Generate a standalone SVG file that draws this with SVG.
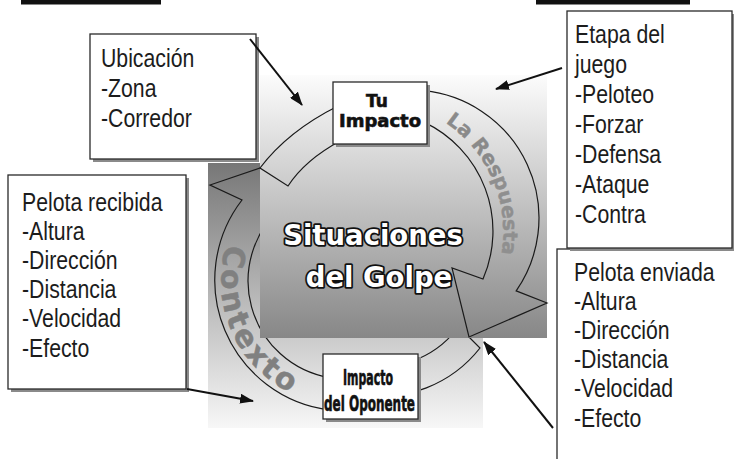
<svg xmlns="http://www.w3.org/2000/svg" width="734" height="459" viewBox="0 0 734 459">
<defs>
<style>
.box{fill:#fff;stroke:#2a2a2a;stroke-width:1.3}
.shadow{fill:#8a8a8a}
.lst{font-family:'Liberation Sans','Arial',sans-serif;font-size:25px;fill:#1c1c1c}
.ring{fill:none;stroke:#1a1a1a;stroke-width:1.2}
.conn{fill:none;stroke:#111;stroke-width:2}
.hv{font-family:'DejaVu Sans',sans-serif;font-weight:bold}
.arc{font-family:'DejaVu Sans',sans-serif;font-weight:bold}
</style>
<linearGradient id="gA" gradientUnits="userSpaceOnUse" x1="0" y1="163" x2="0" y2="428"><stop offset="0" stop-color="#777777"/><stop offset="1" stop-color="#f7f7f7"/></linearGradient>
<linearGradient id="gB" gradientUnits="userSpaceOnUse" x1="0" y1="75" x2="0" y2="338"><stop offset="0" stop-color="#fcfcfc"/><stop offset="1" stop-color="#878787"/></linearGradient>
<marker id="ah" markerUnits="userSpaceOnUse" markerWidth="14" markerHeight="10" refX="13" refY="5" orient="auto"><path d="M0,0 L14,5 L0,10 z" fill="#111"/></marker>
<path id="pResp" d="M 429.7 113.7 A 131 131 0 0 1 486.0 296.5"/>
<path id="pCont" d="M 228.5 238.2 A 125 125 0 0 0 367.7 404.1"/>
</defs>

<rect x="21" y="0" width="140" height="4.5" fill="#111"/>
<rect x="536" y="0" width="154" height="4.5" fill="#111"/>

<g id="background">
<rect x="208" y="163" width="275" height="265" fill="url(#gA)"/>
</g>

<g id="ring-lower">
<path class="ring" d="M 458 326 L 480 348 A 127 127 0 0 1 360 395 M 461 323 A 97 97 0 0 1 362 365"/>
<path class="ring" d="M 262 167.3 L 210 185 L 242 200 A 131 131 0 0 0 330 410 M 283 206 A 98 98 0 0 0 330 377.7"/>
</g>

<g id="situaciones">
<rect x="260" y="75" width="287" height="263" fill="url(#gB)"/>
</g>

<g id="ring-upper">
<path class="ring" d="M 260 168 Q 288 131 338 106 L 424 90.7 A 128 128 0 0 1 516.2 290.9 L 547 303 L 469 337 L 452 268 L 483 279 A 120.5 120.5 0 0 0 424 122.1 L 340 141 Q 305 160 288 186 Z"/>
</g>

<g id="ring-labels">
<text class="arc" font-size="20" fill="#8a8a8a" stroke="#8a8a8a" stroke-width="0.4"><textPath href="#pResp" startOffset="18">La Res</textPath></text>
<text class="arc" font-size="20" fill="#8f8f8f" stroke="#8f8f8f" stroke-width="0.4"><textPath href="#pResp" startOffset="92">puesta</textPath></text>
<text class="arc" font-size="30" letter-spacing="3.2" fill="#808080" stroke="#808080" stroke-width="0.5"><textPath href="#pCont" startOffset="6.5">Contexto</textPath></text>
</g>

<g id="situaciones-label" class="hv" font-size="27.5" text-anchor="middle" fill="#fff" stroke="#111" stroke-width="3.6" paint-order="stroke" stroke-linejoin="round">
<text x="373" y="245">Situaciones</text>
<text x="379" y="287">del Golpe</text>
</g>

<g id="tu-impacto">
<rect class="shadow" x="336" y="85" width="94" height="62"/>
<rect class="box" x="333" y="82" width="94" height="62"/>
<text class="hv" x="377" y="107" font-size="17" text-anchor="middle" fill="#111" stroke="#111" stroke-width="0.6">Tu</text>
<text class="hv" x="380" y="127" font-size="17" text-anchor="middle" fill="#111" stroke="#111" stroke-width="0.6" textLength="82" lengthAdjust="spacingAndGlyphs">Impacto</text>
</g>

<g id="impacto-oponente">
<rect class="shadow" x="326" y="357" width="95" height="65"/>
<rect class="box" x="323" y="354" width="95" height="65"/>
<text class="hv" x="368" y="385" font-size="22" text-anchor="middle" fill="#111" stroke="#111" stroke-width="0.7" textLength="50" lengthAdjust="spacingAndGlyphs">Impacto</text>
<text class="hv" x="369.5" y="410.5" font-size="22" text-anchor="middle" fill="#111" stroke="#111" stroke-width="0.7" textLength="91" lengthAdjust="spacingAndGlyphs">del Oponente</text>
</g>

<g id="ubicacion">
<rect class="shadow" x="93" y="37" width="166" height="125"/>
<rect class="box" x="90" y="34" width="166" height="125"/>
<g transform="translate(101 0) scale(0.85 1)">
<text class="lst" x="0" y="66.7">Ubicación</text>
<text class="lst" x="0" y="96.7">-Zona</text>
<text class="lst" x="0" y="126.7">-Corredor</text>
</g>
</g>

<g id="pelota-recibida">
<rect class="shadow" x="11" y="178" width="178" height="214"/>
<rect class="box" x="8" y="175" width="178" height="214"/>
<g transform="translate(22 0) scale(0.85 1)">
<text class="lst" x="0" y="210.7">Pelota recibida</text>
<text class="lst" x="0" y="239.9">-Altura</text>
<text class="lst" x="0" y="269.1">-Dirección</text>
<text class="lst" x="0" y="298.3">-Distancia</text>
<text class="lst" x="0" y="327.5">-Velocidad</text>
<text class="lst" x="0" y="356.7">-Efecto</text>
</g>
</g>

<g id="pelota-enviada">
<rect class="box" x="557" y="249" width="200" height="230"/>
<g transform="translate(574 0) scale(0.85 1)">
<text class="lst" x="0" y="280.7">Pelota enviada</text>
<text class="lst" x="0" y="309.9">-Altura</text>
<text class="lst" x="0" y="339.1">-Dirección</text>
<text class="lst" x="0" y="368.3">-Distancia</text>
<text class="lst" x="0" y="397.5">-Velocidad</text>
<text class="lst" x="0" y="426.7">-Efecto</text>
</g>
</g>

<g id="etapa">
<rect class="shadow" x="570" y="14" width="165" height="237"/>
<rect class="box" x="567" y="11" width="165" height="237"/>
<g transform="translate(575 0) scale(0.85 1)">
<text class="lst" x="0" y="43.5">Etapa del</text>
<text class="lst" x="0" y="73.4">juego</text>
<text class="lst" x="0" y="103.3">-Peloteo</text>
<text class="lst" x="0" y="133.2">-Forzar</text>
<text class="lst" x="0" y="163.1">-Defensa</text>
<text class="lst" x="0" y="193">-Ataque</text>
<text class="lst" x="0" y="222.9">-Contra</text>
</g>
</g>

<g id="connectors">
<line class="conn" x1="250" y1="39" x2="302" y2="105" marker-end="url(#ah)"/>
<line class="conn" x1="562" y1="68" x2="496" y2="89" marker-end="url(#ah)"/>
<line class="conn" x1="187" y1="389" x2="253" y2="401" marker-end="url(#ah)"/>
<line class="conn" x1="553" y1="428" x2="484" y2="342" marker-end="url(#ah)"/>
</g>
</svg>
